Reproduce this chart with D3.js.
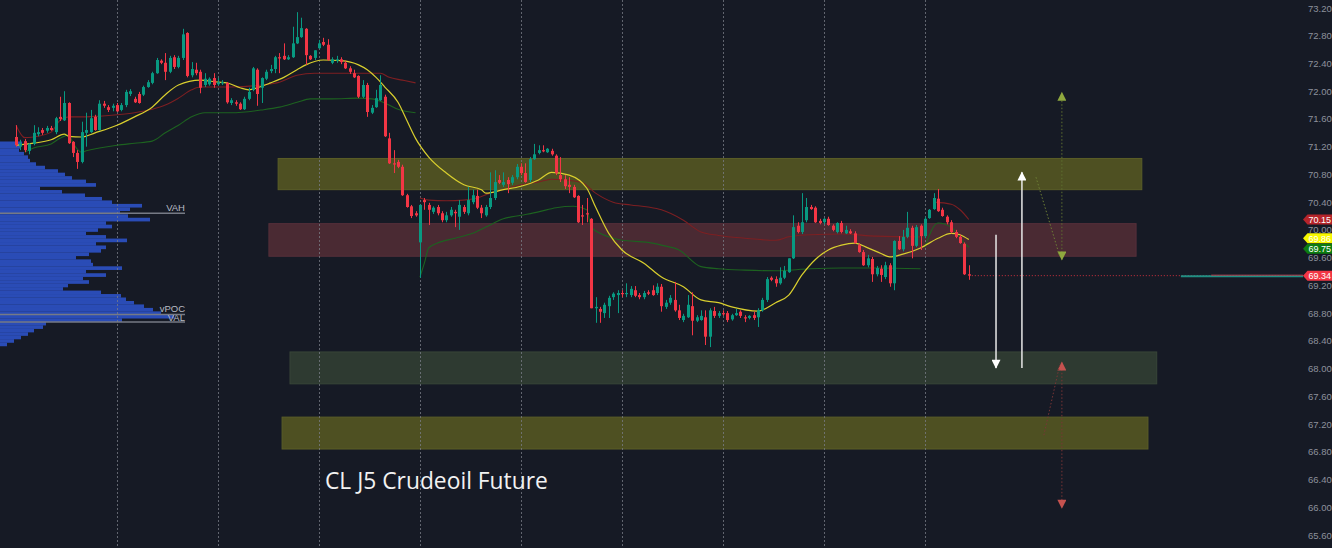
<!DOCTYPE html>
<html><head><meta charset="utf-8">
<script src="https://cdn.jsdelivr.net/npm/d3@7"></script>
<style>
html,body{margin:0;padding:0;background:#161a25;overflow:hidden;}
svg{display:block;}
</style></head><body>
<svg id="c" width="1332" height="548"></svg>
<script>
// ---------- DATA ----------
const opens=[
71.34,71.20,71.28,71.14,71.24,71.38,71.44,71.43,71.47,71.41,71.63,71.58,71.83,71.27,71.11,70.98,71.40,71.41,71.63,71.44,71.82,71.77,71.76,
71.80,71.73,71.80,71.96,71.89,71.96,71.95,72.06,72.12,72.26,72.44,72.41,72.28,72.49,72.35,72.48,72.84,72.23,72.31,72.28,72.09,72.10,72.19,
72.10,72.12,72.12,71.83,71.84,71.82,71.74,71.89,72.02,72.31,72.05,72.18,72.29,72.32,72.49,72.51,72.46,72.49,72.69,72.78,72.90,72.51,72.48,
72.62,72.71,72.67,72.41,72.44,72.46,72.41,72.33,72.26,72.22,71.92,72.09,71.69,71.77,71.87,71.92,71.32,70.96,70.98,70.91,70.50,70.34,70.24,
69.82,70.43,70.36,70.26,70.33,70.24,70.14,70.21,70.26,70.19,70.33,70.24,70.40,70.49,70.32,70.21,70.33,70.46,70.72,70.65,70.72,70.68,70.76,
70.91,70.82,70.72,71.02,71.11,71.15,71.12,71.14,71.07,70.79,70.73,70.65,70.62,70.49,70.21,70.24,70.16,68.87,68.86,68.80,68.90,69.03,69.06,
69.09,69.08,69.06,69.13,69.06,69.03,69.10,69.13,69.09,69.18,68.89,68.95,68.99,68.84,68.70,68.74,68.90,68.69,68.70,68.74,68.46,68.83,68.76,
68.80,68.80,68.71,68.77,68.82,68.74,68.73,68.77,68.74,68.84,68.99,69.31,69.29,69.23,69.31,69.39,69.59,70.06,69.97,70.14,70.33,70.32,70.13,
70.11,70.16,70.06,69.97,70.10,69.95,69.98,69.95,69.78,69.68,69.49,69.58,69.36,69.44,69.32,69.49,69.23,69.84,69.72,69.90,70.03,69.77,70.06,
69.91,70.17,70.30,70.45,70.29,70.19,70.11,69.97,69.90,69.80,69.36];
const highs=[
71.51,71.30,71.31,71.25,71.51,71.48,71.47,71.50,71.50,71.63,71.92,72.00,71.84,71.28,71.15,71.56,71.69,71.73,71.66,71.87,71.86,71.80,71.82,
71.83,71.83,72.02,72.03,71.92,71.99,72.08,72.16,72.28,72.48,72.46,72.55,72.51,72.52,72.51,72.90,72.85,72.42,72.41,72.31,72.26,72.20,72.26,
72.19,72.16,72.13,71.90,71.87,71.84,71.92,72.05,72.35,72.33,72.20,72.31,72.38,72.51,72.55,72.69,72.52,72.93,73.14,73.06,72.91,72.52,72.59,
72.74,72.77,72.75,72.49,72.51,72.49,72.44,72.36,72.31,72.23,72.16,72.12,71.80,72.02,72.23,71.95,71.40,71.15,71.01,70.94,70.52,70.36,70.27,
70.37,70.46,70.39,70.34,70.36,70.27,70.26,70.33,70.29,70.43,70.36,70.62,70.58,70.58,70.36,70.36,70.83,70.86,70.79,70.83,70.76,70.79,70.95,
70.96,70.96,71.05,71.24,71.22,71.22,71.18,71.17,71.09,71.05,70.79,70.76,70.65,70.50,70.36,70.46,70.17,69.03,68.89,68.95,69.05,69.10,69.13,
69.13,69.23,69.19,69.19,69.09,69.12,69.13,69.20,69.23,69.22,68.99,69.06,69.25,68.92,68.79,69.06,69.10,68.77,68.84,68.84,68.87,68.89,68.83,
68.84,68.83,68.79,68.86,68.84,68.77,68.77,68.82,68.87,69.02,69.32,69.33,69.33,69.46,69.48,69.59,70.21,70.11,70.53,70.46,70.36,70.34,70.16,
70.17,70.19,70.08,70.11,70.13,70.06,70.01,69.98,69.81,69.71,69.64,69.61,69.48,69.49,69.54,69.52,69.85,69.91,70.00,70.26,70.06,70.07,70.08,
70.19,70.30,70.53,70.59,70.32,70.21,70.14,70.00,69.93,69.82,69.49];
const lows=[
71.20,71.15,71.12,71.09,71.22,71.35,71.37,71.40,71.43,71.38,71.57,71.57,71.24,71.05,70.88,70.96,71.20,71.40,71.43,71.43,71.76,71.70,71.71,
71.70,71.71,71.77,71.93,71.83,71.82,71.93,72.05,72.10,72.25,72.39,72.16,72.26,72.32,72.33,72.45,72.20,72.20,72.23,71.97,72.06,72.08,72.05,
72.08,72.09,71.82,71.80,71.79,71.73,71.73,71.87,72.00,71.79,71.83,72.16,72.26,72.26,72.26,72.45,72.45,72.48,72.68,72.77,72.38,72.45,72.45,
72.61,72.65,72.44,72.39,72.41,72.39,72.32,72.25,72.19,71.90,71.90,71.63,71.67,71.76,71.86,71.34,70.95,70.82,70.89,70.49,70.32,70.17,70.19,
69.31,70.29,70.07,70.23,70.21,70.11,70.11,70.19,70.04,70.00,70.23,70.21,70.37,70.30,70.17,70.19,70.30,70.43,70.66,70.62,70.53,70.65,70.73,
70.79,70.68,70.69,71.01,71.09,71.12,71.11,71.07,70.79,70.69,70.59,70.53,70.46,70.10,70.07,70.11,68.87,68.66,68.66,68.73,68.73,68.99,68.80,
69.03,69.03,69.03,69.03,69.00,69.00,69.06,69.05,69.06,68.82,68.86,68.92,68.82,68.70,68.67,68.73,68.48,68.67,68.69,68.34,68.31,68.73,68.73,
68.76,68.67,68.69,68.76,68.73,68.67,68.71,68.70,68.60,68.82,68.96,69.26,69.18,69.21,69.29,69.38,69.58,69.95,69.94,70.11,70.29,70.10,70.08,
70.08,70.06,69.98,69.95,69.95,69.94,69.94,69.80,69.67,69.48,69.46,69.25,69.33,69.25,69.29,69.18,69.13,69.71,69.69,69.88,69.59,69.75,69.71,
69.88,70.16,70.29,70.26,70.19,70.08,69.95,69.88,69.80,69.35,69.28];
const closes=[
71.22,71.25,71.15,71.24,71.40,71.41,71.40,71.47,71.44,71.61,71.60,71.83,71.25,71.11,70.98,71.41,71.44,71.61,71.44,71.82,71.79,71.73,71.79,
71.71,71.80,71.99,72.00,71.84,71.83,72.06,72.13,72.26,72.45,72.41,72.28,72.48,72.35,72.48,72.82,72.22,72.32,72.26,72.05,72.18,72.18,72.09,
72.13,72.13,71.84,71.87,71.82,71.74,71.89,71.99,72.33,71.96,72.19,72.28,72.32,72.49,72.48,72.46,72.49,72.69,72.78,72.91,72.52,72.46,72.59,
72.69,72.67,72.45,72.46,72.46,72.42,72.33,72.28,72.20,71.92,72.09,71.70,71.76,71.90,72.09,71.35,70.96,70.95,70.91,70.50,70.33,70.20,70.21,
70.36,70.40,70.29,70.32,70.24,70.14,70.21,70.29,70.24,70.36,70.26,70.43,70.50,70.32,70.24,70.33,70.46,70.69,70.68,70.69,70.66,70.76,70.91,
70.82,70.69,71.02,71.09,71.15,71.14,71.17,71.09,70.82,70.73,70.63,70.62,70.47,70.11,70.20,70.23,68.87,68.89,68.82,68.92,69.02,69.08,69.09,
69.08,69.09,69.15,69.05,69.03,69.09,69.08,69.06,69.18,68.90,68.95,69.02,68.84,68.73,68.76,68.92,68.69,68.74,68.76,68.46,68.84,68.76,68.80,
68.79,68.70,68.77,68.80,68.76,68.73,68.76,68.73,68.84,68.99,69.29,69.28,69.23,69.31,69.41,69.59,70.04,69.97,70.11,70.33,70.30,70.11,70.10,
70.16,70.07,70.00,70.10,69.97,70.00,69.95,69.81,69.68,69.49,69.59,69.36,69.45,69.35,69.49,69.23,69.84,69.72,69.90,70.03,69.77,70.04,69.91,
70.16,70.29,70.46,70.27,70.20,70.11,69.97,69.90,69.81,69.36,69.34];

const sessionStarts=[23,46,69,92,115,138,161,184,207];
const priceTicks=[73.2,72.8,72.4,72.0,71.6,71.2,70.8,70.4,70.0,69.6,69.2,68.8,68.4,68.0,67.6,67.2,66.8,66.4,66.0,65.6];

// moving-average lines: [bar index, price]
const yellowLine=[[0,71.22],[4,71.25],[8,71.30],[11,71.38],[12,71.35],[15,71.34],[18,71.40],[23,71.51],[27,71.63],[31,71.77],[34,71.95],[37,72.09],[42,72.16],[46,72.13],[48,72.12],[51,72.05],[53,72.02],[55,72.05],[58,72.12],[61,72.20],[64,72.31],[66,72.38],[70,72.45],[74,72.44],[78,72.38],[80,72.31],[82,72.20],[84,72.06],[87,71.84],[89,71.58],[91,71.32],[94,71.05],[98,70.82],[102,70.65],[106,70.58],[107,70.53],[111,70.58],[115,70.63],[119,70.72],[122,70.83],[126,70.79],[130,70.60],[132,70.33],[135,69.95],[138,69.71],[143,69.52],[147,69.32],[152,69.18],[156,68.99],[160,68.95],[163,68.89],[169,68.83],[173,68.95],[176,69.06],[179,69.35],[182,69.57],[185,69.71],[188,69.78],[191,69.81],[194,69.74],[197,69.66],[199,69.61],[202,69.65],[206,69.74],[210,69.88],[213,69.95],[215,69.93],[217,69.86]];
const redLineA=[[0,71.51],[2,71.33],[4,71.34],[8,71.41],[10,71.58],[12,71.63],[16,71.63],[19,71.64],[23,71.66],[27,71.69],[31,71.74],[34,71.80],[37,71.90],[40,72.02],[42,72.06],[49,72.06],[56,72.09],[60,72.13],[64,72.23],[68,72.26],[83,72.26],[85,72.20],[88,72.16],[91,72.12]];
const redLineB=[[92,70.46],[94,70.43],[98,70.42],[102,70.43],[105,70.46],[108,70.53],[112,70.60],[115,70.65],[119,70.69],[122,70.73],[125,70.72],[129,70.68],[132,70.53],[136,70.40],[140,70.36],[144,70.33],[147,70.29],[152,70.14],[156,69.97],[160,69.92],[166,69.88],[173,69.85],[176,69.90],[181,69.93],[188,69.94],[196,69.91],[206,69.90]];
const redLineC=[[209,70.40],[213,70.37],[215,70.29],[217,70.15]];
const greenLineA=[[2,71.12],[4,71.18],[8,71.24],[10,71.32],[12,71.37],[13,71.25],[15,71.12],[16,71.14],[19,71.18],[23,71.22],[27,71.25],[31,71.28],[34,71.40],[37,71.51],[40,71.63],[43,71.69],[49,71.69],[56,71.73],[60,71.77],[64,71.84],[67,71.89],[72,71.89],[78,71.90],[81,71.89],[84,71.83],[87,71.74],[91,71.69]];
const greenLineB=[[92,69.32],[93,69.52],[94,69.74],[96,69.81],[100,69.88],[104,69.95],[107,70.04],[111,70.16],[115,70.21],[119,70.26],[123,70.32],[127,70.34],[130,70.29],[131,70.04],[135,69.90],[138,69.85],[144,69.82],[147,69.78],[151,69.71],[156,69.47],[160,69.44],[166,69.42],[173,69.41],[181,69.44],[188,69.45],[196,69.45],[206,69.44]];
const greenLineC=[[207,69.75],[210,70.10],[213,70.04],[216,69.81],[217,69.75]];

// zones: [start bar, end bar, top price, bottom price]
const zoneOliveTop=[59.7,256.4,71.03,70.58];
const zoneRed=[57.6,255.1,70.09,69.62];
const zoneGreen=[62.4,259.8,68.24,67.78];
const zoneOliveBottom=[60.6,257.8,67.30,66.84];

// volume profile rows (price of row centre = 71.25 - 0.05*k)
const profileTopPrice=71.25, profileStep=0.05;
const profileVolumes=[22,20,19,24,28,30,36,45,58,65,72,86,96,40,62,85,102,112,142,130,120,128,150,106,112,98,86,106,127,96,106,101,89,76,91,93,122,86,106,83,89,68,63,101,121,126,134,144,153,161,174,122,46,43,34,28,21,14,7];
const profileLevelNames=["VAH","vPOC","VAL"];
const profileLevelPrices=[70.24,68.78,68.67];

// projections: arrows [bar, from price, to price]
const whiteDown=[223.2,69.93,68.01];
const whiteUp=[229.1,68.01,70.83];
const greenTarget=[238.2,69.57,71.98];
const greenDiag=[[232.3,70.76],[237.8,69.60]];
const redTarget=[238.2,68.09,65.99];
const redDiag=[[234.1,67.04],[237.8,68.08]];

const lastPrice=69.34;
const tagValues=[70.15,69.86,69.75,69.34];
const tagNames=["red","yellow","green","last"];
const title="CL J5 Crudeoil Future";

// ---------- DRAW ----------
const W=1332,H=548, axisX=1303;
const svg=d3.select('#c');
svg.append('rect').attr('width',W).attr('height',H).attr('fill','#161a25');
const x=d3.scaleLinear().domain([0,217]).range([16,968.8]);
const y=d3.scaleLinear().domain([65.6,73.2]).range([535,8]);
const vol=d3.scaleLinear().domain([0,174]).range([0,174]);

// zones
const zones=[[zoneOliveTop,'#4e5022','#5b5e27'],[zoneRed,'#4a2a33','#56303a'],[zoneGreen,'#2e3a31','#384538'],[zoneOliveBottom,'#4e5022','#5b5e27']];
svg.append('g').selectAll('rect').data(zones).join('rect')
 .attr('x',d=>x(d[0][0])).attr('width',d=>x(d[0][1])-x(d[0][0]))
 .attr('y',d=>y(d[0][2])).attr('height',d=>y(d[0][3])-y(d[0][2]))
 .attr('fill',d=>d[1]).attr('stroke',d=>d[2]).attr('stroke-width',1);

// volume profile
const prof=svg.append('g');
prof.selectAll('rect').data(profileVolumes).join('rect')
 .attr('x',0)
 .attr('y',(d,k)=>y(profileTopPrice-profileStep*k+profileStep/2))
 .attr('height',(d,k)=>y(profileTopPrice-profileStep*k-profileStep/2)-y(profileTopPrice-profileStep*k+profileStep/2)+0.2)
 .attr('width',d=>vol(d))
 .attr('fill','#2a4cb6');
const lvlEnd=185;
profileLevelPrices.forEach((p,i)=>{
  prof.append('line').attr('x1',0).attr('x2',lvlEnd).attr('y1',y(p)).attr('y2',y(p))
   .attr('stroke','#767a85').attr('stroke-width',1.5);
});
prof.selectAll('text').data(profileLevelNames).join('text')
 .attr('x',lvlEnd).attr('y',(d,i)=> i===2? y(profileLevelPrices[i])-1 : y(profileLevelPrices[i])-2.5)
 .attr('text-anchor','end').attr('fill','#b8bbc4')
 .attr('font-family','Liberation Sans, Arial, sans-serif').attr('font-size',9.5)
 .text(d=>d);

// session separators
svg.append('g').selectAll('line').data(sessionStarts).join('line')
 .attr('x1',d=>Math.round(x(d))+0.5).attr('x2',d=>Math.round(x(d))+0.5)
 .attr('y1',0).attr('y2',H)
 .attr('stroke','#7a7e88').attr('stroke-width',1).attr('stroke-dasharray','2,2').attr('opacity',0.75);

// lines
const lineGen=d3.line().x(d=>x(d[0])).y(d=>y(d[1])).curve(d3.curveMonotoneX);
const lg=svg.append('g').attr('fill','none');
[redLineA,redLineB,redLineC].forEach(l=>lg.append('path').attr('d',lineGen(l)).attr('stroke','#7d1f22').attr('stroke-width',1.1));
[greenLineA,greenLineB,greenLineC].forEach(l=>lg.append('path').attr('d',lineGen(l)).attr('stroke','#1d6220').attr('stroke-width',1.1));

// candles
const up='#089981', dn='#f23645';
const cg=svg.append('g');
const idx=d3.range(opens.length);
cg.selectAll('line').data(idx).join('line')
 .attr('x1',i=>Math.round(x(i))+0.5).attr('x2',i=>Math.round(x(i))+0.5)
 .attr('y1',i=>y(highs[i])).attr('y2',i=>y(lows[i]))
 .attr('stroke',i=>closes[i]>=opens[i]?up:dn).attr('stroke-width',1);
cg.selectAll('rect').data(idx).join('rect')
 .attr('x',i=>Math.round(x(i))-1)
 .attr('width',3)
 .attr('y',i=>y(Math.max(opens[i],closes[i])))
 .attr('height',i=>Math.max(1.2,Math.abs(y(opens[i])-y(closes[i]))))
 .attr('fill',i=>closes[i]>=opens[i]?up:dn);

lg.append('path').attr('d',lineGen(yellowLine)).attr('stroke','#d9cf2e').attr('stroke-width',1.2).attr('fill','none');

// last price line
svg.append('line').attr('x1',x(217)+3).attr('x2',axisX).attr('y1',y(lastPrice)).attr('y2',y(lastPrice))
 .attr('stroke','#f23645').attr('stroke-width',1).attr('stroke-dasharray','1,2').attr('opacity',0.85);
svg.append('line').attr('x1',x(265.3)).attr('x2',axisX).attr('y1',y(lastPrice)+0.5).attr('y2',y(lastPrice)+0.5)
 .attr('stroke','#1f8f83').attr('stroke-width',2);
svg.append('line').attr('x1',x(272.2)).attr('x2',axisX).attr('y1',y(lastPrice)-0.5).attr('y2',y(lastPrice)-0.5)
 .attr('stroke','#b0404f').attr('stroke-width',1);

// arrows
const defs=svg.append('defs');
function head(id,color,orient){
  defs.append('marker').attr('id',id).attr('viewBox','0 0 10 10').attr('refX',9).attr('refY',5)
   .attr('markerUnits','userSpaceOnUse').attr('markerWidth',10).attr('markerHeight',9).attr('orient',orient)
   .append('path').attr('d','M0,0L10,5L0,10Z').attr('fill',color);
}
head('hw','#ffffff','auto'); head('hg','#8fa83e','auto'); head('hr','#c5524f','auto');
head('hgs','#8fa83e','auto-start-reverse'); head('hrs','#c5524f','auto-start-reverse');
const ag=svg.append('g').attr('fill','none');
function arrow(a,color,width,dash,mk,both){
  const p=ag.append('line').attr('x1',x(a[0])).attr('x2',x(a[0])).attr('y1',y(a[1])).attr('y2',y(a[2]))
   .attr('stroke',color).attr('stroke-width',width).attr('marker-end','url(#'+mk+')');
  if(dash) p.attr('stroke-dasharray',dash);
  if(both) p.attr('marker-start','url(#'+mk+'s)');
}
arrow(whiteDown,'#e8e8e8',1.5,null,'hw',false);
arrow(whiteUp,'#e8e8e8',1.5,null,'hw',false);
arrow(greenTarget,'#5f7030',1,'1.5,2','hg',true);
arrow(redTarget,'#7a3536',1,'1.5,2','hr',true);
ag.append('path').attr('d',d3.line().x(d=>x(d[0])).y(d=>y(d[1]))(greenDiag)).attr('stroke','#6d7f35').attr('stroke-dasharray','1.5,2');
ag.append('path').attr('d',d3.line().x(d=>x(d[0])).y(d=>y(d[1]))(redDiag)).attr('stroke','#7a3536').attr('stroke-dasharray','1.5,2');

// title
svg.append('text').attr('x',325).attr('y',489).attr('fill','#f2f2f2')
 .attr('font-family','Open Sans, Noto Sans, sans-serif').attr('font-size',22.8).text(title);

// price axis
const axis=d3.axisRight(y).tickValues(priceTicks).tickFormat(d3.format('.2f')).tickSize(0).tickPadding(5);
const ax=svg.append('g').attr('transform',`translate(${axisX},0)`).call(axis);
ax.select('.domain').remove();
ax.selectAll('text').attr('fill','#8d919c').attr('font-size',9.5).attr('font-family','Liberation Sans, Arial, sans-serif');

// price tags (nudged apart where they would collide, as the platform does)
const tagFill={red:'#b5242a',yellow:'#f7f700',green:'#0c7d10',last:'#f23645'};
const tagNudge={red:0,yellow:-1.3,green:1.6,last:0};
const tg=svg.append('g');
tagValues.forEach((v,i)=>{
  const yc=y(v)+tagNudge[tagNames[i]];
  tg.append('path').attr('d',`M${axisX},${yc}L${axisX+4.5},${yc-5}L${W},${yc-5}L${W},${yc+5}L${axisX+4.5},${yc+5}Z`)
   .attr('fill',tagFill[tagNames[i]]);
  tg.append('text').attr('x',axisX+5.5).attr('y',yc+3.2).attr('fill','#ffffff')
   .attr('font-size',9).attr('font-family','Liberation Sans, Arial, sans-serif').text(v.toFixed(2));
});
</script>
</body></html>
